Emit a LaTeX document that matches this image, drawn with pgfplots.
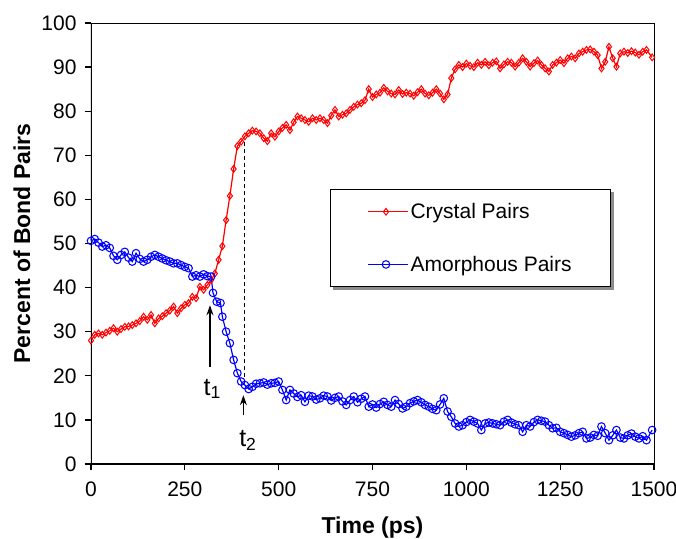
\documentclass[border=0pt]{standalone}
\usepackage{fontspec}
\setmainfont{Liberation Sans}
\usepackage{pgfplots}
\usepackage{pgfplotstable}
\pgfplotsset{compat=1.18}
\usetikzlibrary{arrows.meta,backgrounds}

% crystal pairs (red)
\pgfplotstableread{
t y
0 28.0
10 29.3
20 29.6
30 29.3
40 29.8
50 30.2
60 30.8
70 30.0
80 30.6
90 31.1
100 31.2
110 31.5
120 31.9
130 32.4
140 33.4
150 32.7
160 33.8
170 31.9
180 33.0
190 33.5
200 34.2
210 34.8
220 35.7
230 34.2
240 35.3
250 36.1
260 36.5
270 37.9
280 37.6
290 40.2
300 39.5
310 40.6
320 41.7
330 43.2
340 46.3
350 49.4
360 55.3
370 60.8
380 66.9
390 72.1
400 73.1
410 74.3
420 75.0
430 75.6
440 75.4
450 75.0
460 73.9
470 73.2
480 75.0
490 74.2
500 75.4
510 76.2
520 76.9
530 75.7
540 77.5
550 78.8
560 78.4
570 78.0
580 77.6
590 78.4
600 78.0
610 78.4
620 78.0
630 77.3
640 79.0
650 80.3
660 78.8
670 79.2
680 79.5
690 80.3
700 81.0
710 81.5
720 81.8
730 82.5
740 85.0
750 83.2
760 83.8
770 84.2
780 85.3
790 84.5
800 84.0
810 83.8
820 84.8
830 83.9
840 84.2
850 84.0
860 83.5
870 84.3
880 85.0
890 84.0
900 83.6
910 84.2
920 85.0
930 84.0
940 82.7
950 83.8
960 87.5
970 89.5
980 90.5
990 90.0
1000 90.8
1010 90.3
1020 90.0
1030 91.0
1040 90.5
1050 91.2
1060 90.4
1070 91.0
1080 91.3
1090 89.7
1100 90.6
1110 91.2
1120 91.0
1130 90.1
1140 91.0
1150 92.0
1160 91.2
1170 90.1
1180 90.9
1190 91.5
1200 90.5
1210 89.7
1220 89.0
1230 90.5
1240 91.0
1250 91.6
1260 90.9
1270 92.0
1280 92.4
1290 92.0
1300 93.1
1310 93.5
1320 93.9
1330 94.0
1340 93.5
1350 92.7
1360 89.7
1370 91.2
1380 94.6
1390 92.0
1400 90.1
1410 93.1
1420 93.5
1430 93.2
1440 93.6
1450 93.3
1460 92.8
1470 93.5
1480 93.9
1495 92.2
}\crystal

% amorphous pairs (blue)
\pgfplotstableread{
t y
0 50.6
10 51.0
20 50.2
30 49.3
40 49.6
50 49.0
60 47.2
70 46.3
80 47.4
90 48.1
100 46.8
110 45.9
120 47.8
130 46.5
140 45.9
150 46.3
160 47.0
170 47.4
180 47.0
190 46.6
200 46.2
210 45.9
220 45.5
230 45.5
240 45.1
250 44.7
260 44.4
270 42.5
280 42.8
290 42.5
300 43.0
310 42.6
320 42.5
325 38.8
335 36.8
345 36.5
350 33.4
360 30.0
370 27.4
380 23.6
390 20.6
400 18.7
410 17.9
420 17.0
430 17.5
440 18.2
450 18.3
460 18.5
470 18.0
480 18.3
490 18.4
500 18.7
510 16.8
520 14.5
530 16.8
540 16.0
550 15.2
560 15.6
570 14.1
580 15.5
590 15.3
600 14.6
610 14.9
620 15.5
630 15.3
640 14.4
650 15.0
660 15.3
670 14.2
680 13.4
690 14.5
700 15.3
710 14.0
720 14.8
730 15.3
740 13.0
750 13.5
760 12.8
770 13.6
780 14.1
790 13.4
800 13.0
810 14.5
820 13.6
830 12.6
840 13.0
850 13.8
860 14.2
870 14.5
880 14.0
890 13.4
900 13.0
910 12.5
920 12.2
930 13.5
940 14.9
950 11.9
960 10.7
970 9.2
980 8.5
990 8.8
1000 9.5
1010 10.0
1020 9.6
1030 9.2
1040 7.7
1050 9.2
1060 9.4
1070 9.2
1080 9.0
1090 8.8
1100 9.6
1110 10.0
1120 9.4
1130 9.0
1140 8.8
1150 7.3
1160 8.8
1170 8.5
1180 9.5
1190 10.0
1200 9.8
1210 9.6
1220 8.8
1230 8.1
1240 8.2
1250 7.3
1260 7.0
1270 6.6
1280 6.2
1290 6.5
1300 7.0
1310 7.3
1320 5.8
1330 6.0
1340 6.6
1350 6.4
1360 8.5
1370 7.0
1380 5.4
1390 6.5
1400 7.7
1410 6.0
1420 5.8
1430 6.5
1440 6.9
1450 6.2
1460 5.8
1470 6.3
1480 5.4
1495 7.7
}\amorph

\begin{document}
\begin{tikzpicture}
\begin{axis}[
  scale only axis,
  width=563bp, height=441bp,
  xmin=0, xmax=1500, ymin=0, ymax=100,
  xtick={0,250,...,1500}, ytick={0,10,...,100},
  tick align=outside, tick pos=left,
  major tick length=6bp,
  every tick/.style={black, line width=1.2bp},
  axis line style={line width=0.8bp},
  tick label style={font=\fontsize{21bp}{25bp}\selectfont},
  xticklabel style={yshift=-8bp},
  yticklabel style={xshift=-5bp},
  /pgf/number format/assume math mode=true,
  /pgf/number format/1000 sep={},
  xlabel={Time (ps)}, ylabel={Percent of Bond Pairs},
  every axis x label/.style={at={(axis description cs:0.5,-0.1440)}, anchor=center,
    font=\fontsize{23bp}{27bp}\selectfont\bfseries},
  every axis y label/.style={at={(axis description cs:-0.1226,0.5)}, rotate=90, anchor=center,
    font=\fontsize{23bp}{27bp}\selectfont\bfseries},
  legend style={name=leg, at={(0.4245,0.6236)}, anchor=north west, draw=black, fill=white,
    line width=0.8bp,
    font=\fontsize{21bp}{25bp}\selectfont,
    inner xsep=37bp, inner ysep=12bp, row sep=32bp},
  legend cell align=left,
  legend image code/.code={\draw[mark repeat=2,mark phase=2,#1] plot coordinates {(0bp,0bp) (18bp,0bp) (36bp,0bp)}; \path (36bp,0bp) -- (40bp,0bp);},
]
\addplot[red, line width=1.2bp, mark=diamond, mark size=3.4bp, mark options={solid, line width=1bp}] table[x=t, y=y] {\crystal};
\addlegendentry{Crystal Pairs}
\addplot[blue, line width=1.2bp, mark=o, mark size=3.8bp, mark options={solid, line width=1.05bp}] table[x=t, y=y] {\amorph};
\addlegendentry{Amorphous Pairs}

% thick left and bottom axis lines
\draw[line width=2bp] (rel axis cs:0,1) -- (rel axis cs:0,0) -- (rel axis cs:1,0);

% annotations
\draw[dashed, dash pattern=on 4bp off 3bp, line width=1bp] (axis cs:408,73) -- (axis cs:408,18.5);
\draw[-{Stealth[length=10bp,width=7bp]}, line width=1.3bp] (axis cs:317,22) -- (axis cs:317,36);
\node[font=\fontsize{25bp}{29bp}\selectfont] at (axis cs:323,17) {t\textsubscript{1}};
\draw[-{Stealth[length=10bp,width=7bp]}, line width=1.3bp] (axis cs:406,11) -- (axis cs:406,15.6);
\node[font=\fontsize{25bp}{29bp}\selectfont] at (axis cs:418,5.3) {t\textsubscript{2}};

\coordinate (ll) at (rel axis cs:0,0);
\coordinate (ur) at (rel axis cs:1,1);
\end{axis}
% legend shadow
\begin{pgfonlayer}{background}
\fill[black!45] ([shift={(3bp,-3bp)}]leg.south west) rectangle ([shift={(3bp,-3bp)}]leg.north east);
\end{pgfonlayer}
\pgfresetboundingbox
\path[use as bounding box] ([shift={(-91bp,-75bp)}]ll) rectangle ([shift={(22bp,23bp)}]ur);
\end{tikzpicture}
\end{document}
